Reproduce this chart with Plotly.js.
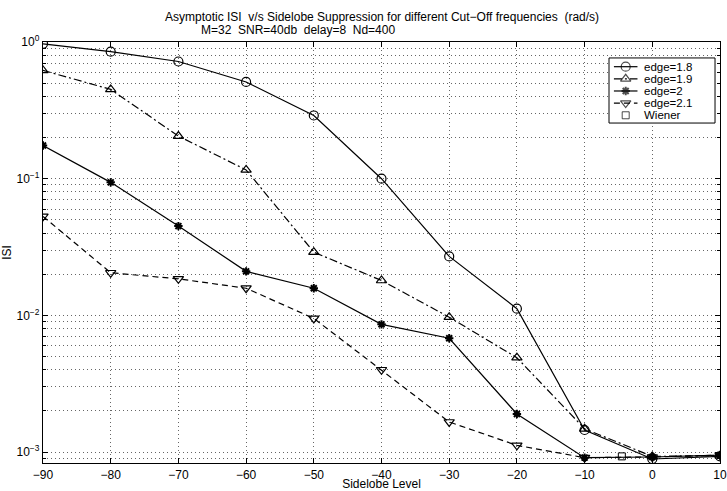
<!DOCTYPE html>
<html>
<head>
<meta charset="utf-8">
<script src="https://cdn.plot.ly/plotly-3.0.1.min.js"></script>
<style>html,body{margin:0;padding:0;background:#fff;}#chart{width:727px;height:491px;}</style>
</head>
<body>
<div id="chart"></div>
<script>
const sidelobe = [-90, -80, -70, -60, -50, -40, -30, -20, -10, 0, 10];
const edge18 = [0.97, 0.85, 0.72, 0.51, 0.29, 0.10, 0.027, 0.0112, 0.00145, 0.00089, 0.00093];
const edge19 = [0.62, 0.45, 0.205, 0.116, 0.029, 0.018, 0.0097, 0.0049, 0.00148, 0.00093, 0.00094];
const edge20 = [0.175, 0.094, 0.045, 0.021, 0.0158, 0.0086, 0.0068, 0.0019, 0.00091, 0.00092, 0.00095];
const edge21 = [0.053, 0.0205, 0.0185, 0.0158, 0.0095, 0.0040, 0.00166, 0.00112, 0.00091, 0.00092, 0.00095];
const wienerX = [-4.5];
const wienerY = [0.00093];
const seriesNames = ['edge=1.8', 'edge=1.9', 'edge=2', 'edge=2.1', 'Wiener'];
const titleLine1 = 'Asymptotic ISI  v/s Sidelobe Suppression for different Cut\u2212Off frequencies  (rad/s)';
const titleLine2 = 'M=32  SNR=40db  delay=8  Nd=400';
const yTickVals = [1, 0.1, 0.01, 0.001];
const yTickText = ['10<sup>0</sup>', '10<sup>\u22121</sup>', '10<sup>\u22122</sup>', '10<sup>\u22123</sup>'];
const xTickVals = [-90, -80, -70, -60, -50, -40, -30, -20, -10, 0, 10];
const xTickText = ['\u221290', '\u221280', '\u221270', '\u221260', '\u221250', '\u221240', '\u221230', '\u221220', '\u221210', '0', '10'];

const FONT = 'Liberation Sans, Arial, Helvetica, sans-serif';
const GRID = '1px,3px';

const styles = [
  {dash: 'solid', symbol: 'circle-open', size: 9, mlw: 1.2, lines: true},
  {dash: '8px,3px,2px,3px', symbol: 'triangle-up-open', size: 9, mlw: 1.2, lines: true},
  {dash: 'solid', symbol: 'asterisk-open', size: 7, mlw: 2, lines: true},
  {dash: '6px,4px', symbol: 'triangle-down-open', size: 9, mlw: 1.2, lines: true},
  {dash: 'solid', symbol: 'square-open', size: 7, mlw: 1, lines: false}
];
const seriesX = [sidelobe, sidelobe, sidelobe, sidelobe, wienerX];
const seriesY = [edge18, edge19, edge20, edge21, wienerY];

const traces = [];
for (let i = 0; i < 5; i++) {
  const s = styles[i];
  traces.push({
    x: seriesX[i], y: seriesY[i], name: seriesNames[i],
    mode: s.lines ? 'lines+markers' : 'markers', xaxis: 'x', yaxis: 'y',
    line: {color: '#000', width: 1.2, dash: s.dash},
    marker: {symbol: s.symbol, size: s.size, color: '#000', line: {width: s.mlw, color: '#000'}},
    showlegend: false
  });
}

// hand-drawn legend in its own small subplot (units: pixels inside the box)
const legRowY = [58, 45.5, 33, 20.5, 8];
const annotations = [];
for (let i = 0; i < 5; i++) {
  const s = styles[i];
  traces.push({
    x: [5, 17, 29], y: [legRowY[i], legRowY[i], legRowY[i]],
    xaxis: 'x2', yaxis: 'y2', mode: s.lines ? 'lines+markers' : 'markers',
    line: {color: '#000', width: 1.2, dash: s.dash},
    marker: {symbol: s.symbol, size: [0, s.size, 0], color: '#000', line: {width: s.mlw, color: '#000'}},
    showlegend: false, hoverinfo: 'skip'
  });
  annotations.push({
    xref: 'x2', yref: 'y2', x: 35, y: legRowY[i], xanchor: 'left', yanchor: 'middle',
    text: seriesNames[i], showarrow: false, borderpad: 0,
    font: {family: FONT, size: 11.5, color: '#000'}
  });
}
annotations.push({
  xref: 'paper', yref: 'paper', x: 0.5007, y: 1, yshift: 25, xanchor: 'center', yanchor: 'middle',
  text: titleLine1, showarrow: false, borderpad: 0, font: {family: FONT, size: 12, color: '#000'}
});
annotations.push({
  xref: 'paper', yref: 'paper', x: 0.2319, y: 1, yshift: 12, xanchor: 'left', yanchor: 'middle',
  text: titleLine2, showarrow: false, borderpad: 0, font: {family: FONT, size: 12, color: '#000'}
});

const layout = {
  width: 727, height: 491,
  margin: {l: 43, r: 7, t: 42, b: 28},
  paper_bgcolor: '#fff', plot_bgcolor: '#fff',
  font: {family: FONT, size: 12, color: '#000'},
  showlegend: false,
  xaxis: {
    range: [-90, 10], tickmode: 'array', tickvals: xTickVals, ticktext: xTickText,
    ticks: 'inside', ticklen: 5, tickcolor: '#000', mirror: 'ticks',
    showline: true, linecolor: '#000', linewidth: 1.2,
    showgrid: true, gridcolor: '#666', griddash: GRID, gridwidth: 1,
    zeroline: false,
    tickfont: {family: FONT, size: 12},
    title: {text: 'Sidelobe Level', font: {family: FONT, size: 12}, standoff: 1}
  },
  yaxis: {
    type: 'log', range: [-3.08, 0],
    tickmode: 'array', tickvals: yTickVals, ticktext: yTickText,
    ticks: 'inside', ticklen: 5, tickcolor: '#000', mirror: 'ticks',
    showline: true, linecolor: '#000', linewidth: 1.2,
    showgrid: true, gridcolor: '#666', griddash: GRID, gridwidth: 1,
    zeroline: false,
    tickfont: {family: FONT, size: 12},
    minor: {dtick: 'D1', showgrid: true, gridcolor: '#666', griddash: GRID, gridwidth: 1, ticks: 'inside', ticklen: 3, tickcolor: '#000'},
    title: {text: 'ISI', font: {family: FONT, size: 12}, standoff: 10}
  },
  xaxis2: {domain: [0.8346, 0.9941], anchor: 'y2', range: [-1, 109], visible: false, fixedrange: true},
  yaxis2: {domain: [0.8052, 0.9644], anchor: 'x2', range: [-1, 68], visible: false, fixedrange: true},
  shapes: [{
    type: 'rect', xref: 'x2', yref: 'y2', x0: 0, x1: 108, y0: 0, y1: 67,
    fillcolor: '#fff', line: {color: '#000', width: 1}, layer: 'below'
  }],
  annotations: annotations
};

Plotly.newPlot('chart', traces, layout, {displayModeBar: false, staticPlot: true});
</script>
</body>
</html>
